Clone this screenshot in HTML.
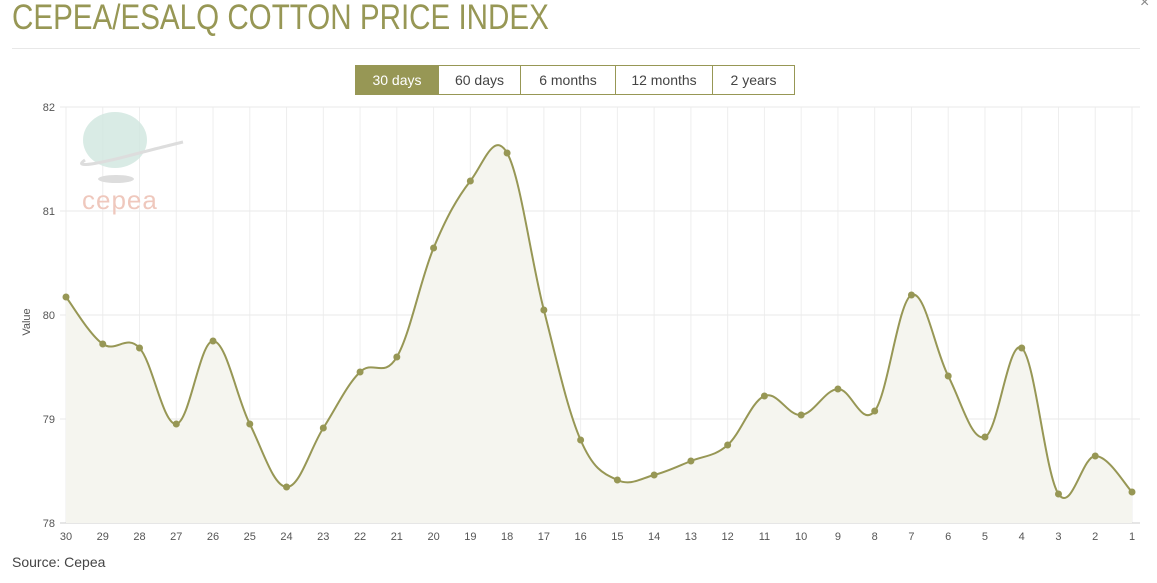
<!DOCTYPE html>
<html><head><meta charset="utf-8"><style>
html,body{margin:0;padding:0;background:#fff;width:1157px;height:583px;overflow:hidden;font-family:"Liberation Sans",sans-serif}
.title{position:absolute;left:12px;top:-2px;font-size:35px;color:#979755;transform:scaleX(0.845);transform-origin:0 0;white-space:nowrap;letter-spacing:0px}
.hr{position:absolute;left:12px;top:48px;width:1128px;height:1px;background:#e8e8e8}
.x{position:absolute;left:1140px;top:-6px;font-size:16px;color:#888}
.btns{position:absolute;left:355px;top:65px;height:30px;display:flex;border:1px solid #979755;box-sizing:border-box}
.btns div{height:28px;line-height:28px;font-size:14px;color:#444;text-align:center;border-left:1px solid #979755;box-sizing:border-box}
.btns div:first-child{border-left:none;background:#979755;color:#fff}
.src{position:absolute;left:12px;top:554px;font-size:14px;color:#444}
svg{position:absolute;left:0;top:0}
</style></head><body>
<div class="title">CEPEA/ESALQ COTTON PRICE INDEX</div>
<div class="x">×</div>
<div class="hr"></div>
<div class="btns"><div style="width:82px">30 days</div><div style="width:82px">60 days</div><div style="width:95px">6 months</div><div style="width:97px">12 months</div><div style="width:82px">2 years</div></div>
<svg id="s" width="1157" height="583" xmlns="http://www.w3.org/2000/svg"></svg>
<div class="src">Source: Cepea</div>
<script>
var s=document.getElementById('s'),h='';
var x0=66,x1=1132,n=30,dx=(x1-x0)/29;
for(var i=0;i<30;i++){var x=x0+i*dx;h+='<line x1="'+x+'" y1="107" x2="'+x+'" y2="523" stroke="#eee"/>';}
var yl=[82,81,80,79,78];
yl.forEach(function(v,k){var y=107+k*104;h+='<line x1="60" y1="'+y+'" x2="1140" y2="'+y+'" stroke="#eaeaea"/><text x="55" y="'+(y+4)+'" font-size="11" fill="#555" text-anchor="end">'+v+'</text>';});
h+='<line x1="60" y1="523" x2="1140" y2="523" stroke="#ccc"/>';
for(var i=0;i<30;i++){var x=x0+i*dx;h+='<text x="'+x+'" y="540" font-size="11" fill="#555" text-anchor="middle">'+(30-i)+'</text>';}
h+='<text x="30" y="322" font-size="11" fill="#555" text-anchor="middle" transform="rotate(-90 30 322)">Value</text>';
h+='<ellipse cx="115" cy="140" rx="32" ry="28" fill="#cfe6de" opacity="0.8"/><ellipse cx="116" cy="179" rx="18" ry="4" fill="#ddd"/><path d="M85 160 Q70 170 120 158 Q170 145 183 142" stroke="#ddd" stroke-width="3" fill="none"/><text x="82" y="209" font-size="26" fill="#efc8bd" letter-spacing="1">cepea</text>';
var Y=[297,344,348,424,341,424,487,428,372,357,248,181,153,310,440,480,475,461,445,396,415,389,411,295,376,437,348,494,456,492];
var P=Y.map(function(y,i){return [x0+i*dx,y]});
var d='M'+P[0][0]+','+P[0][1];
for(var i=0;i<P.length-1;i++){var p0=P[Math.max(i-1,0)],p1=P[i],p2=P[i+1],p3=P[Math.min(i+2,P.length-1)],t=0.18;
d+=' C'+(p1[0]+(p2[0]-p0[0])*t)+','+(p1[1]+(p2[1]-p0[1])*t)+' '+(p2[0]-(p3[0]-p1[0])*t)+','+(p2[1]-(p3[1]-p1[1])*t)+' '+p2[0]+','+p2[1];}
h+='<path d="'+d+' L'+x1+',523 L'+x0+',523Z" fill="#f5f5ef"/>';
h+='<path d="'+d+'" fill="none" stroke="#979755" stroke-width="2"/>';
P.forEach(function(p){h+='<circle cx="'+p[0]+'" cy="'+p[1]+'" r="3.5" fill="#979755"/>';});
s.innerHTML=h;
</script>
</body></html>
